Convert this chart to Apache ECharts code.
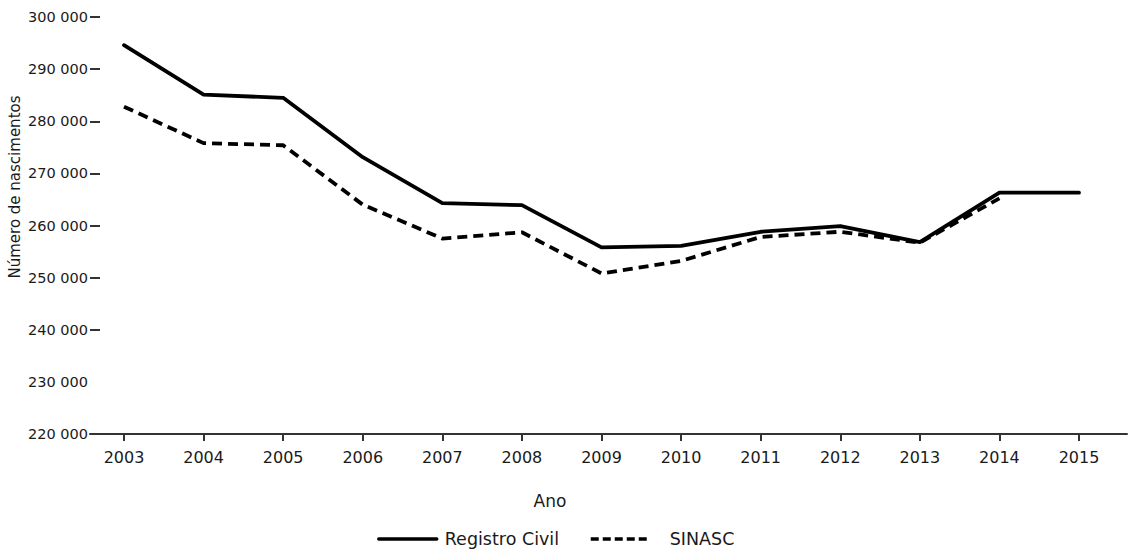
<!DOCTYPE html>
<html><head><meta charset="utf-8">
<script src="https://cdn.jsdelivr.net/npm/echarts@6/dist/echarts.min.js"></script>
<style>html,body{margin:0;padding:0;background:#fff}#c{width:1130px;height:553px}</style>
</head><body><div id="c"></div>
<script>
const years = [2003, 2004, 2005, 2006, 2007, 2008, 2009, 2010, 2011, 2012, 2013, 2014, 2015];
const registroCivil = [294600, 285100, 284500, 273100, 264300, 263900, 255800, 256100, 258800, 259900, 256800, 266300, 266300];
const sinasc = [282800, 275800, 275400, 264000, 257500, 258700, 250800, 253200, 257800, 258800, 256700, 265200, null];
const yTickMarks = [220000, 240000, 250000, 260000, 270000, 280000, 290000, 300000];
const seriesNames = ['Registro Civil', 'SINASC'];
const xTitle = 'Ano';
const yTitle = 'Número de nascimentos';

const FONT = 'DejaVu Sans';
const TXT = '#1a1a1a';
const AX = '#333';
const chart = echarts.init(document.getElementById('c'), null, {renderer: 'svg'});
const fmt = v => String(v).replace(/\B(?=(\d{3})+(?!\d))/g, ' ');

chart.setOption({
  animation: false,
  grid: {left: 90, right: 3, top: 17, bottom: 119, containLabel: false, outerBoundsMode: 'none'},
  graphic: [{
    type: 'text', x: 15, y: 187, rotation: Math.PI / 2,
    style: {text: yTitle, font: '15px "DejaVu Sans"', fill: TXT, align: 'center', verticalAlign: 'middle'}
  }],
  xAxis: {
    type: 'value', min: 2002.5728, max: 2015.6031,
    axisLine: {show: true, lineStyle: {color: AX, width: 2}},
    axisTick: {show: true, customValues: years, length: 7, lineStyle: {color: AX, width: 2}},
    axisLabel: {customValues: years, formatter: v => String(v), margin: 15, fontSize: 16, fontFamily: FONT, color: TXT},
    splitLine: {show: false},
    name: xTitle, nameLocation: 'middle', nameGap: 58,
    nameTextStyle: {fontSize: 17, fontFamily: FONT, color: TXT, padding: [0, 117, 0, 0]}
  },
  yAxis: {
    type: 'value', min: 220000, max: 300000, interval: 10000,
    axisLine: {show: false},
    axisTick: {show: true, inside: true, length: 10, customValues: yTickMarks, lineStyle: {color: AX, width: 2}},
    axisLabel: {margin: 2, fontSize: 14.5, fontFamily: FONT, color: TXT, formatter: fmt},
    splitLine: {show: false}
  },
  legend: [
    {data: [seriesNames[0]], left: 377, top: 530, padding: 0, itemWidth: 58, itemHeight: 14,
     itemStyle: {opacity: 0}, lineStyle: {width: 3.5},
     textStyle: {fontSize: 17.5, fontFamily: FONT, color: TXT, padding: [0, 0, 0, 3]}},
    {data: [seriesNames[1]], left: 589, top: 530, padding: 0, itemWidth: 59, itemHeight: 14,
     itemStyle: {opacity: 0}, lineStyle: {width: 3.5, type: [8, 4]},
     textStyle: {fontSize: 17.5, fontFamily: FONT, color: TXT, padding: [0, 0, 0, 15]}}
  ],
  series: [
    {name: seriesNames[0], type: 'line', symbol: 'none', z: 3,
     data: years.map((y, i) => [y, registroCivil[i]]),
     itemStyle: {color: '#000'},
     lineStyle: {color: '#000', width: 3.8, cap: 'round', join: 'round'}},
    {name: seriesNames[1], type: 'line', symbol: 'none', z: 2, connectNulls: false,
     data: years.map((y, i) => [y, sinasc[i]]),
     itemStyle: {color: '#000'},
     lineStyle: {color: '#000', width: 3.8, type: [10, 6], join: 'round'}}
  ]
});
</script></body></html>
